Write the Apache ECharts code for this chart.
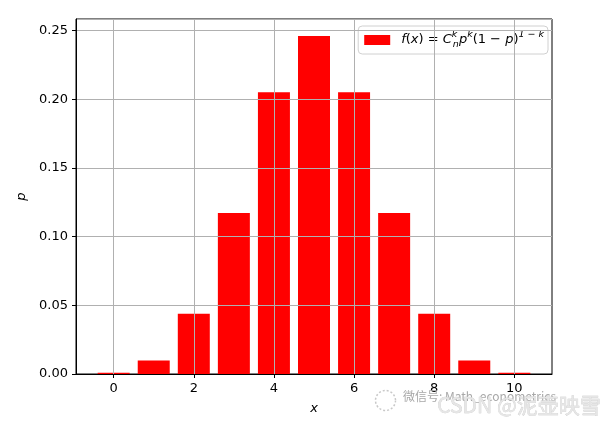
<!DOCTYPE html>
<html><head><meta charset="utf-8">
<script src="https://cdn.jsdelivr.net/npm/echarts@6/dist/echarts.min.js"></script>
<style>html,body{margin:0;padding:0;background:#fff}#c{width:614px;height:425px}</style>
</head><body><div id="c"></div>
<script>
const xValues = [0,1,2,3,4,5,6,7,8,9,10];
const pValues = [0.000977,0.009766,0.043945,0.117188,0.205078,0.246094,0.205078,0.117188,0.043945,0.009766,0.000977];
const xTicks = [0,2,4,6,8,10];
const yMax = 0.2584;
const seriesName = 'f(x)';
const xLabel = 'x';
const yLabel = 'p';
const wmLine1 = '微信号: Math_econometrics';
const wmLine2 = 'CSDN @泥壶映雪';

const FONT = 'DejaVu Sans';
const chart = echarts.init(document.getElementById('c'), null, {renderer:'canvas'});
const base = {fontFamily: FONT, fontSize: 13, color: '#000', lineHeight: 20, verticalAlign: 'middle'};
chart.setOption({
  animation: false,
  grid: {left: 76, top: 19, right: 62, bottom: 51, show: true, borderColor: '#000', borderWidth: 1, backgroundColor: 'transparent'},
  legend: {
    right: 66, top: 26,
    itemWidth: 26, itemHeight: 10,
    padding: [4, 4, 4, 6],
    borderColor: '#d0d0d0', borderWidth: 1, borderRadius: 4,
    backgroundColor: 'rgba(255,255,255,0.85)',
    icon: 'rect',
    data: [{name: seriesName, itemStyle: {color: '#ff0000'}}],
    formatter: function () {
      return '{i|f}{r|(}{i|x}{r|) = }{i|C}{supz|k}{sub|n}{i|p}{sup|k}{r|(1 − }{i|p}{r|)}{sup|1 − k}';
    },
    textStyle: {
      padding: [0, 0, 0, 6],
      rich: {
        r: base,
        i: Object.assign({}, base, {fontStyle: 'italic'}),
        sup: {fontFamily: FONT, fontSize: 9.5, fontStyle: 'italic', color: '#000', lineHeight: 9, verticalAlign: 'top'},
        supz: {fontFamily: FONT, fontSize: 9.5, fontStyle: 'italic', color: '#000', lineHeight: 9, verticalAlign: 'top', width: 1},
        sub: {fontFamily: FONT, fontSize: 9.5, fontStyle: 'italic', color: '#000', lineHeight: 9, verticalAlign: 'bottom'}
      }
    }
  },
  xAxis: {
    type: 'value', min: -0.94, max: 10.94, z: 5,
    name: xLabel, nameLocation: 'middle', nameGap: 28,
    nameTextStyle: {fontFamily: FONT, fontSize: 13, fontStyle: 'italic', color: '#000'},
    axisLine: {show: true, onZero: false, lineStyle: {color: '#000', width: 1}},
    axisTick: {show: true, length: 4, inside: false, customValues: xTicks, lineStyle: {color: '#000'}},
    axisLabel: {show: true, margin: 8, customValues: xTicks, fontFamily: FONT, fontSize: 13, color: '#000'},
    splitLine: {show: true, lineStyle: {color: '#b0b0b0', width: 1}}
  },
  yAxis: {
    type: 'value', min: 0, max: yMax, interval: 0.05, z: 5,
    name: yLabel, nameLocation: 'middle', nameGap: 38, nameRotate: 90,
    nameTextStyle: {fontFamily: FONT, fontSize: 13, fontStyle: 'italic', color: '#000'},
    axisLine: {show: true, onZero: false, lineStyle: {color: '#000', width: 1}},
    axisTick: {show: true, length: 4, inside: false, lineStyle: {color: '#000'}},
    axisLabel: {show: true, margin: 8, fontFamily: FONT, fontSize: 13, color: '#000',
      formatter: v => v.toFixed(2), showMaxLabel: false},
    splitLine: {show: true, lineStyle: {color: '#b0b0b0', width: 1}}
  },
  series: [{
    name: seriesName, type: 'bar', z: 2,
    barWidth: 32,
    itemStyle: {color: '#ff0000'},
    data: xValues.map((x, i) => [x, pValues[i]])
  }],
  graphic: [
    {type: 'circle', left: 373, top: 388, shape: {r: 10}, style: {fill: 'none', stroke: '#c8c8c8', lineWidth: 1.5, lineDash: [2, 2]}, z: 10},
    {type: 'text', left: 403, top: 390, z: 10, style: {text: wmLine1, font: '12px "Noto Sans CJK SC", "DejaVu Sans"', fill: '#a8a8a8'}},
    {type: 'text', left: 437, top: 394, z: 11, style: {text: wmLine2, font: '21px "Noto Sans CJK SC", "DejaVu Sans"', fill: '#e6e6e6', stroke: '#c4c4c4', lineWidth: 0.5}}
  ]
});
</script>
</body></html>
